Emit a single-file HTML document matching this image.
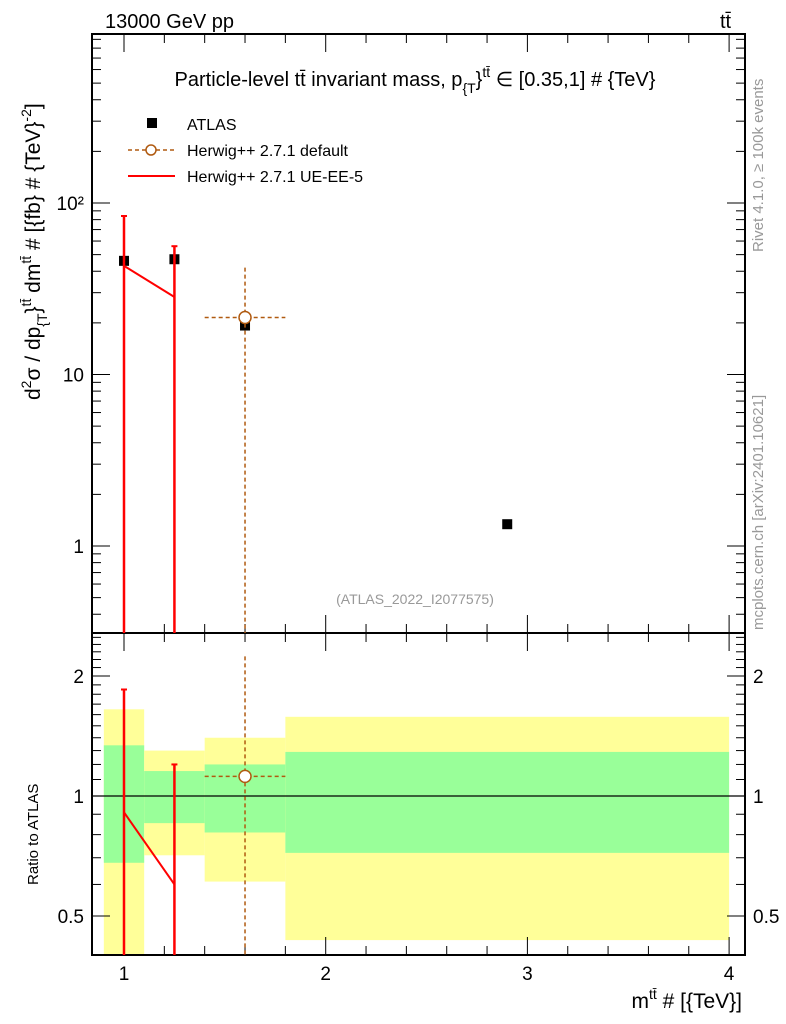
<!DOCTYPE html>
<html><head><meta charset="utf-8"><style>body{margin:0;background:#fff}svg{display:block;font-family:"Liberation Sans",sans-serif}</style></head>
<body>
<svg id="c" width="786" height="1024" xmlns="http://www.w3.org/2000/svg">
<text x="105" y="28" font-size="20">13000 GeV pp</text>
<text x="720" y="28" font-size="20">tt̄</text>
<text x="415" y="86" font-size="20" text-anchor="middle">Particle-level tt̄ invariant mass, p<tspan font-size="14" dy="7">{T</tspan><tspan font-size="20" dy="-7">}</tspan><tspan font-size="14" dy="-9">tt̄</tspan><tspan font-size="20" dy="9"> ∈ [0.35,1] # {TeV}</tspan></text>
<text transform="translate(763,252) rotate(-90)" font-size="15" fill="#999">Rivet 4.1.0, ≥ 100k events</text>
<text transform="translate(763,630) rotate(-90)" font-size="15" fill="#999">mcplots.cern.ch [arXiv:2401.10621]</text>
<text transform="translate(40,400) rotate(-90)" font-size="21">d<tspan font-size="14" dy="-9">2</tspan><tspan dy="9">σ / dp</tspan><tspan font-size="14" dy="7">{T</tspan><tspan dy="-7">}</tspan><tspan font-size="14" dy="-9">tt̄</tspan><tspan dy="9"> dm</tspan><tspan font-size="14" dy="-9">tt̄</tspan><tspan dy="9"> # [{fb} # {TeV}</tspan><tspan font-size="14" dy="-9">-2</tspan><tspan dy="9">]</tspan></text>
<text transform="translate(38,885) rotate(-90)" font-size="15">Ratio to ATLAS</text>
<text x="742" y="1008" font-size="21" text-anchor="end">m<tspan font-size="14" dy="-9">tt̄</tspan><tspan dy="9"> # [{TeV}]</tspan></text>
<text x="415" y="604" font-size="14" fill="#999" text-anchor="middle">(ATLAS_2022_I2077575)</text>
<g>
<rect x="147" y="118" width="10" height="10" fill="#000"/>
<text x="187" y="130" font-size="16">ATLAS</text>
<line x1="128" y1="150" x2="175" y2="150" stroke="#b05a10" stroke-width="1.5" stroke-dasharray="4,3"/>
<circle cx="151" cy="150" r="5" fill="#fff" stroke="#b05a10" stroke-width="1.5"/>
<text x="187" y="156" font-size="16">Herwig++ 2.7.1 default</text>
<line x1="128" y1="176" x2="175" y2="176" stroke="#f00" stroke-width="2"/>
<text x="187" y="182" font-size="16">Herwig++ 2.7.1 UE-EE-5</text>
</g>
<g id="g"></g>
</svg>
<script>
const binLo=[0.9,1.1,1.4,1.8], binHi=[1.1,1.4,1.8,4.0], xc=[1.0,1.25,1.6,2.9];
const atlas=[46,47,19.3,1.34];
const ueVals=[43,28.3], ueErrHi=[84,56];
const defX=[1.6], defVals=[21.5], defErrHi=[42];
const yelHi=[1.65,1.30,1.40,1.58], yelLo=[0.3,0.71,0.61,0.435];
const grnHi=[1.34,1.155,1.20,1.29], grnLo=[0.68,0.855,0.81,0.72];
const ueRatio=[0.91,0.60], ueRatioHi=[1.85,1.20];
const defRatio=[1.12], defRatioHi=[2.24];
const xTicks=[1,2,3,4], mainTicks=[1,10,100], mainTickLabels=["1","10","10²"], ratioTicks=[0.5,1,2], ratioTickLabels=["0.5","1","2"];
const L=92,R=745,T=34,MB=633,RB=955;
const X=v=>124+(v-1)*201.7;
const Y=v=>546-Math.log10(v)*171.5;
const YR=v=>796-Math.log2(v)*120;
const g=document.getElementById('g');
const NS='http://www.w3.org/2000/svg';
function el(t,a,name){const e=document.createElementNS(NS,t);for(const k in a)e.setAttribute(k,a[k]);


g.appendChild(e);return e;}
const cl=(v,a,b)=>Math.max(a,Math.min(b,v));
for(let i=0;i<binLo.length;i++){
 el('rect',{x:X(binLo[i]),y:YR(yelHi[i]),width:X(binHi[i])-X(binLo[i]),height:cl(YR(yelLo[i]),0,RB)-YR(yelHi[i]),fill:'#ffff99'},'yellow-band');
 el('rect',{x:X(binLo[i]),y:YR(grnHi[i]),width:X(binHi[i])-X(binLo[i]),height:YR(grnLo[i])-YR(grnHi[i]),fill:'#99ff99'},'green-band');
}
el('line',{x1:L,x2:R,y1:YR(1),y2:YR(1),stroke:'#000','stroke-width':1.2},'ratio-unity-line');
el('rect',{x:L,y:T,width:R-L,height:MB-T,fill:'none',stroke:'#000','stroke-width':2},'main-frame');
el('rect',{x:L,y:MB,width:R-L,height:RB-MB,fill:'none',stroke:'#000','stroke-width':2},'ratio-frame');
for(let v=0.9;v<=4.05;v+=0.1){const maj=Math.abs(v-Math.round(v))<0.01;const x=X(v);const l=maj?18:((Math.round(v*10)%2==0)?9:0);if(!l)continue;
 for(const [yb,d] of [[MB,-1],[T,1],[RB,-1],[MB,1]]) el('line',{x1:x,x2:x,y1:yb,y2:yb+d*l,stroke:'#000','stroke-width':1},'x-tick');}
xTicks.forEach(v=>{const t=el('text',{x:X(v),y:980,'font-size':19,'text-anchor':'middle'},'x-tick-label');t.textContent=v;});
for(let d=-1;d<3;d++)for(let m=1;m<10;m++){const v=m*Math.pow(10,d);const y=Y(v);if(y<T||y>MB)continue;const l=m==1?18:9;
 el('line',{x1:L,x2:L+l,y1:y,y2:y,stroke:'#000'},'y-tick');el('line',{x1:R,x2:R-l,y1:y,y2:y,stroke:'#000'},'y-tick');}
mainTicks.forEach((v,i)=>{const t=el('text',{x:L-8,y:Y(v)+7,'font-size':19,'text-anchor':'end'},'y-tick-label');t.textContent=mainTickLabels[i];});
for(let v=0.4;v<=2.6;v+=0.1){const y=YR(v);if(y<MB||y>RB)continue;const maj=[0.5,1,2].some(a=>Math.abs(a-v)<0.01);const l=maj?18:9;
 el('line',{x1:L,x2:L+l,y1:y,y2:y,stroke:'#000'},'ratio-tick');el('line',{x1:R,x2:R-l,y1:y,y2:y,stroke:'#000'},'ratio-tick');}
ratioTicks.forEach((v,i)=>{const t=el('text',{x:L-8,y:YR(v)+7,'font-size':19,'text-anchor':'end'},'ratio-tick-label');t.textContent=ratioTickLabels[i];
 const t2=el('text',{x:R+8,y:YR(v)+7,'font-size':19},'ratio-tick-label-right');t2.textContent=ratioTickLabels[i];});
atlas.forEach((v,i)=>el('rect',{x:X(xc[i])-5,y:Y(v)-5,width:10,height:10,fill:'#000'},'atlas-point'));
el('polyline',{points:ueVals.map((v,i)=>X(xc[i])+','+Y(v)).join(' '),fill:'none',stroke:'#f00','stroke-width':2},'ueee5-line');
ueVals.forEach((v,i)=>{el('line',{x1:X(xc[i]),x2:X(xc[i]),y1:Y(ueErrHi[i]),y2:MB,stroke:'#f00','stroke-width':2.5},'ueee5-errorbar');
 el('line',{x1:X(xc[i])-3,x2:X(xc[i])+3,y1:Y(ueErrHi[i]),y2:Y(ueErrHi[i]),stroke:'#f00','stroke-width':2},'ueee5-errcap');});
el('polyline',{points:ueRatio.map((v,i)=>X(xc[i])+','+YR(v)).join(' '),fill:'none',stroke:'#f00','stroke-width':2},'ueee5-ratio-line');
ueRatio.forEach((v,i)=>{el('line',{x1:X(xc[i]),x2:X(xc[i]),y1:YR(ueRatioHi[i]),y2:RB,stroke:'#f00','stroke-width':2.5},'ueee5-ratio-errorbar');
 el('line',{x1:X(xc[i])-3,x2:X(xc[i])+3,y1:YR(ueRatioHi[i]),y2:YR(ueRatioHi[i]),stroke:'#f00','stroke-width':2},'ueee5-ratio-errcap');});
const dc='#b05a10';
defVals.forEach((v,i)=>{const x=X(defX[i]);
 el('line',{x1:x,x2:x,y1:Y(defErrHi[i]),y2:MB,stroke:dc,'stroke-width':1.5,'stroke-dasharray':'4,3'},'default-errorbar');
 el('line',{x1:X(1.4),x2:X(1.8),y1:Y(v),y2:Y(v),stroke:dc,'stroke-width':1.5,'stroke-dasharray':'4,3'},'default-xerr');
 el('circle',{cx:x,cy:Y(v),r:6,fill:'#fff',stroke:dc,'stroke-width':1.5},'default-point');});
defRatio.forEach((v,i)=>{const x=X(defX[i]);
 el('line',{x1:x,x2:x,y1:YR(defRatioHi[i]),y2:RB,stroke:dc,'stroke-width':1.5,'stroke-dasharray':'4,3'},'default-ratio-errorbar');
 el('line',{x1:X(1.4),x2:X(1.8),y1:YR(v),y2:YR(v),stroke:dc,'stroke-width':1.5,'stroke-dasharray':'4,3'},'default-ratio-xerr');
 el('circle',{cx:x,cy:YR(v),r:6,fill:'#fff',stroke:dc,'stroke-width':1.5},'default-ratio-point');});
</script>
</body></html>
